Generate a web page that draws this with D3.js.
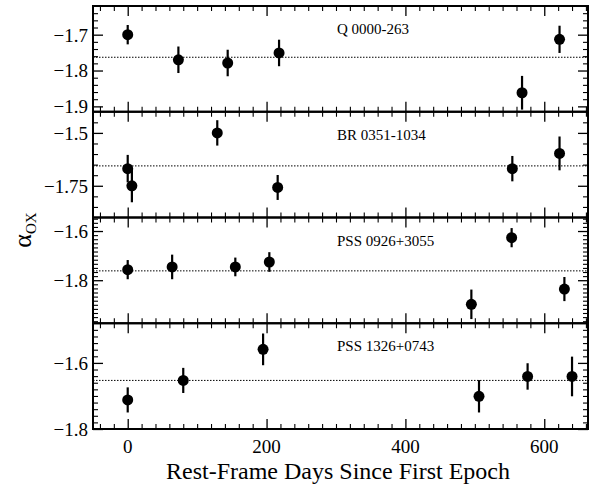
<!DOCTYPE html>
<html><head><meta charset="utf-8">
<script src="https://cdn.jsdelivr.net/npm/d3@7"></script>
<style>
body{margin:0;background:#fff;}
</style></head>
<body><svg id="c" width="600" height="486"></svg>
<script>
// ---- data ----
const panelNames = ["Q 0000-263", "BR 0351-1034", "PSS 0926+3055", "PSS 1326+0743"];
const days1 = [0, 73, 144, 218, 568, 622];
const aox1  = [-1.700, -1.770, -1.779, -1.751, -1.862, -1.713];
const err1  = [0.027, 0.037, 0.037, 0.037, 0.047, 0.038];
const days2 = [0, 6, 129, 216, 554, 622];
const aox2  = [-1.669, -1.750, -1.500, -1.758, -1.669, -1.597];
const err2  = [0.065, 0.078, 0.060, 0.059, 0.060, 0.080];
const days3 = [0, 64, 155, 204, 495, 553, 629];
const aox3  = [-1.757, -1.746, -1.746, -1.726, -1.898, -1.627, -1.836];
const err3  = [0.039, 0.050, 0.038, 0.040, 0.060, 0.039, 0.049];
const days4 = [0, 80, 195, 506, 576, 640];
const aox4  = [-1.712, -1.653, -1.559, -1.701, -1.641, -1.641];
const err4  = [0.038, 0.038, 0.048, 0.049, 0.040, 0.060];
const means = [-1.763, -1.656, -1.762, -1.653];
const yDomains = [[-1.915, -1.62], [-1.9, -1.4], [-1.975, -1.545], [-1.8, -1.48]];
const yMajor = [[-1.7, -1.8, -1.9], [-1.5, -1.75], [-1.6, -1.8], [-1.6, -1.8]];
const yMinorStep = [0.02, 0.05, 0.2/12, 0.02];
const xMajor = [0, 200, 400, 600];
const xLabel = "Rest-Frame Days Since First Epoch";

const FONT = "Liberation Serif, Times New Roman, serif";
const svg = d3.select("#c").attr("font-family", FONT);
const L = 93, R = 588, T = 6, B = 429;
const nP = 4, pH = (B - T) / nP;
const x = d3.scaleLinear().domain([-50, 663]).range([L, R]);
const xMinor = d3.range(-40, 664, 20).filter(v => !xMajor.includes(v));
const fmt = v => (v < 0 ? "\u2212" : "") + Math.abs(v).toString();

const series = [
  {d: days1, v: aox1, e: err1},
  {d: days2, v: aox2, e: err2},
  {d: days3, v: aox3, e: err3},
  {d: days4, v: aox4, e: err4}
];

function clean(a){ a.attr("font-family", FONT); a.select(".domain").remove(); }

series.forEach((s, i) => {
  const top = T + i * pH, bot = top + pH;
  const y = d3.scaleLinear().domain(yDomains[i]).range([bot, top]);
  const g = svg.append("g");
  const [lo, hi] = yDomains[i];
  const minor = [];
  const st = yMinorStep[i];
  for (let k = Math.ceil(lo / st - 1e-6); k * st <= hi + 1e-9; k++) {
    const v = +(k * st).toFixed(5);
    if (!yMajor[i].some(m => Math.abs(m - v) < 1e-6) && v > lo + 1e-6 && v < hi - 1e-6) minor.push(v);
  }
  g.append("g").attr("transform", `translate(${L},0)`)
    .call(d3.axisLeft(y).tickValues(yMajor[i]).tickSize(-10).tickPadding(5).tickFormat(fmt))
    .call(clean)
    .call(a => a.selectAll("text").attr("font-size", 19).attr("dy", "0.34em"))
    .call(a => a.selectAll("line").attr("stroke-width", 1.3));
  g.append("g").attr("transform", `translate(${L},0)`)
    .call(d3.axisLeft(y).tickValues(minor).tickSize(-5).tickFormat(""))
    .call(clean)
    .call(a => a.selectAll("line").attr("stroke-width", 1.1));
  g.append("g").attr("transform", `translate(${R},0)`)
    .call(d3.axisRight(y).tickValues(yMajor[i]).tickSize(-10).tickFormat(""))
    .call(clean)
    .call(a => a.selectAll("line").attr("stroke-width", 1.3));
  g.append("g").attr("transform", `translate(${R},0)`)
    .call(d3.axisRight(y).tickValues(minor).tickSize(-5).tickFormat(""))
    .call(clean)
    .call(a => a.selectAll("line").attr("stroke-width", 1.1));
  [[top, d3.axisTop], [bot, d3.axisBottom]].forEach(([yy, ax]) => {
    g.append("g").attr("transform", `translate(0,${yy})`)
      .call(ax(x).tickValues(xMajor).tickSize(-10).tickFormat(""))
      .call(clean)
      .call(a => a.selectAll("line").attr("stroke-width", 1.3));
    g.append("g").attr("transform", `translate(0,${yy})`)
      .call(ax(x).tickValues(xMinor).tickSize(-5).tickFormat(""))
      .call(clean)
      .call(a => a.selectAll("line").attr("stroke-width", 1.1));
  });
  g.append("line").attr("x1", L).attr("x2", R)
    .attr("y1", y(means[i])).attr("y2", y(means[i]))
    .attr("stroke", "#000").attr("stroke-width", 1).attr("stroke-dasharray", "1.5,1.5");
  g.selectAll("line.err").data(s.d).join("line").attr("class", "err")
    .attr("x1", d => x(d)).attr("x2", d => x(d))
    .attr("y1", (d, j) => y(s.v[j] - s.e[j])).attr("y2", (d, j) => y(s.v[j] + s.e[j]))
    .attr("stroke", "#000").attr("stroke-width", 2.2);
  g.selectAll("circle").data(s.d).join("circle")
    .attr("cx", d => x(d)).attr("cy", (d, j) => y(s.v[j])).attr("r", 5.5).attr("fill", "#000");
  g.append("text").attr("x", 337).attr("y", top + 28).attr("font-size", 15).text(panelNames[i]);
  g.append("rect").attr("x", L).attr("y", top).attr("width", R - L).attr("height", pH)
    .attr("fill", "none").attr("stroke", "#000").attr("stroke-width", 2);
});

svg.append("g").selectAll("text").data(xMajor).join("text")
  .attr("x", d => x(d)).attr("y", B + 24).attr("text-anchor", "middle").attr("font-size", 19).text(d => d);
svg.append("text").attr("x", 338).attr("y", 479).attr("text-anchor", "middle")
  .attr("font-size", 24).text(xLabel);
const yl = svg.append("text").attr("transform", "translate(31,230) rotate(-90)").attr("text-anchor", "middle");
yl.append("tspan").attr("font-size", 26).text("\u03b1");
yl.append("tspan").attr("font-size", 15).attr("dy", 5).text("OX");
</script></body></html>
